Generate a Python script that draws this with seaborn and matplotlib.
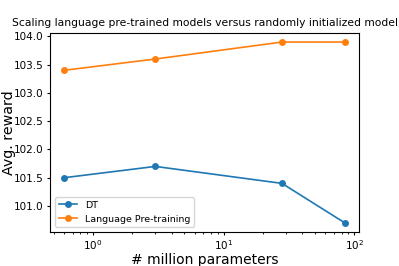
import matplotlib
matplotlib.use("Agg")
import matplotlib.pyplot as plt
import seaborn as sns
import pandas as pd

params = [0.6, 3.0, 28, 85]
dt_reward = [101.5, 101.7, 101.4, 100.7]
lang_reward = [103.4, 103.6, 103.9, 103.9]
series_names = ["DT", "Language Pre-training"]

df = pd.DataFrame({
    "params": params * 2,
    "reward": dt_reward + lang_reward,
    "model": [series_names[0]] * len(params) + [series_names[1]] * len(params),
})

fig = plt.figure(figsize=(3.99, 2.66), dpi=100)
ax = fig.add_axes([50 / 399, 1 - 232 / 266, 309 / 399, 199 / 266])
sns.lineplot(data=df, x="params", y="reward", hue="model", marker="o",
             palette=["#1f77b4", "#ff7f0e"], markersize=5, linewidth=1.2,
             markeredgewidth=0, ax=ax)
ax.set_xscale("log")
ax.set_xlabel("# million parameters", fontsize=10, labelpad=0.5)
ax.set_ylabel("Avg. reward", fontsize=10.3)
ax.yaxis.set_label_coords(-0.11, 0.5)
ax.set_title("Scaling language pre-trained models versus randomly initialized model",
             fontsize=7.75, pad=5)
ax.tick_params(labelsize=7.5, length=2.5, pad=2)
ax.tick_params(which="minor", length=1.5)
ax.legend(loc="lower left", fontsize=6.8)
fig.savefig("out.png", dpi=100)
